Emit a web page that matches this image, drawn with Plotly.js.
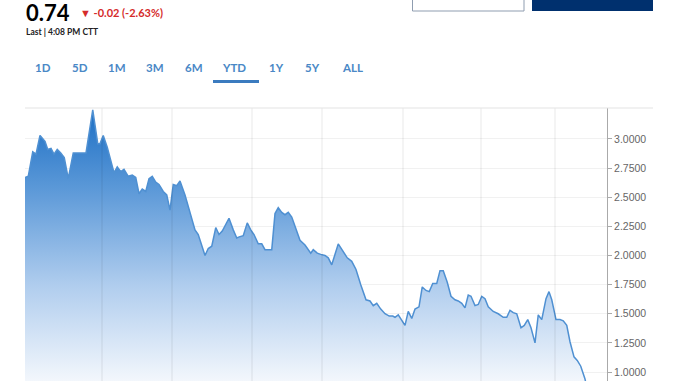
<!DOCTYPE html>
<html>
<head>
<meta charset="utf-8">
<script src="https://cdn.plot.ly/plotly-3.0.1.min.js"></script>
<style>
html,body{margin:0;padding:0;background:#fff;overflow:hidden;}
#chart{width:678px;height:381px;}
</style>
</head>
<body>
<div id="chart"></div>
<script>
// Day offset from start of year (approx.) and price
const day = [0,1.3,3.1,4.4,6.0,8.0,9.1,10.4,11.6,12.9,14.3,15.7,17.3,19.3,24.4,27.1,29.1,30.0,31.3,32.9,35.6,36.9,38.3,39.6,41.3,
42.9,44.3,45.6,46.9,48.3,49.6,50.9,52.3,53.6,55.3,56.7,58.0,59.3,60.7,62.0,64.0,66.7,68.0,69.3,72.0,73.3,74.7,76.3,77.6,78.9,81.6,
83.3,84.7,85.7,87.3,88.9,90.3,91.6,93.3,94.7,96.0,98.7,100.0,101.3,102.7,104.0,105.3,106.7,108.7,110.0,112.0,114.3,115.3,116.9,118.3,120.0,121.3,122.7,125.3,127.3,
128.9,130.7,132.4,134.3,136.4,138.0,139.3,140.7,142.3,144.0,145.7,147.1,148.0,149.3,152.0,153.3,154.7,156.0,157.6,158.9,160.4,161.7,163.1,164.7,166.0,167.3,168.9,170.4,172.0,
173.3,174.7,176.0,177.3,178.4,180.0,181.3,182.7,184.0,185.3,187.3,189.3,191.3,192.7,194.0,195.3,196.7,198.4,199.7,201.1,202.4,204.0,205.3,206.7,
208.4,209.6,210.7,212.4,214.0,215.3,216.7,218.0,219.6,220.9,222.3,224.0,225.0,226.0];
const price = [2.67,2.68,2.89,2.87,3.03,2.98,2.91,2.92,2.87,2.91,2.88,2.84,2.66,2.88,2.88,3.25,2.96,2.96,3.03,2.93,2.71,2.76,2.72,2.74,2.68,
2.69,2.67,2.53,2.57,2.55,2.66,2.68,2.63,2.61,2.55,2.52,2.39,2.61,2.60,2.64,2.52,2.31,2.22,2.18,2.00,2.06,2.08,2.24,2.18,2.21,2.32,
2.22,2.15,2.16,2.17,2.28,2.22,2.18,2.10,2.10,2.05,2.05,2.36,2.41,2.37,2.35,2.37,2.33,2.20,2.13,2.09,2.02,2.05,2.02,2.01,2.00,1.98,1.92,2.10,2.03,
1.98,1.95,1.88,1.75,1.62,1.61,1.57,1.59,1.54,1.50,1.48,1.48,1.47,1.49,1.40,1.52,1.46,1.54,1.56,1.73,1.70,1.69,1.76,1.76,1.87,1.87,1.77,1.65,1.62,
1.61,1.59,1.55,1.66,1.65,1.57,1.58,1.65,1.63,1.56,1.52,1.50,1.47,1.47,1.53,1.51,1.50,1.38,1.40,1.45,1.38,1.25,1.49,1.45,
1.63,1.69,1.62,1.45,1.45,1.44,1.40,1.26,1.13,1.10,1.05,0.94,0.84,0.74];
const monthGrid = [30.8,58.8,90.8,118.8,151.2,182.4,212.0];
const yTicks = [1.0,1.25,1.5,1.75,2.0,2.25,2.5,2.75,3.0];
const tabs = ["1D","5D","1M","3M","6M","YTD","1Y","5Y","ALL"];
const tabCenters = [42.5,79.5,116.5,155,193.5,234,276.5,312,352];

const L=25, R=607, T=108, H=381;
const px = x => (x-L)/(R-L);
const py = y => (H-y)/(H-T);

const shapes = [];
monthGrid.forEach(g => shapes.push({type:'line',xref:'x',yref:'paper',x0:g,x1:g,y0:0,y1:1,
  line:{color:'rgba(0,0,0,0.09)',width:1},layer:'above'}));
shapes.push({type:'line',xref:'paper',yref:'paper',x0:0,x1:px(653),y0:1,y1:1,line:{color:'#e3e3e3',width:1}});
shapes.push({type:'rect',xref:'paper',yref:'paper',x0:px(412.5),x1:px(524),y0:py(11),y1:py(-5),
  line:{color:'#8f9db0',width:1},fillcolor:'#ffffff'});
shapes.push({type:'rect',xref:'paper',yref:'paper',x0:px(532),x1:px(653),y0:py(11),y1:py(-5),
  line:{width:0},fillcolor:'#00306e'});
shapes.push({type:'rect',xref:'paper',yref:'paper',x0:px(213),x1:px(259),y0:py(83),y1:py(80),
  line:{width:0},fillcolor:'#3b7bbf'});

const ann = [];
ann.push({text:'<b>0.74</b>',xref:'paper',yref:'paper',x:px(24),y:py(13),xanchor:'left',yanchor:'middle',showarrow:false,
  font:{family:'Lato, sans-serif',size:22,color:'#000',weight:900}});
ann.push({text:'<b>▼ -0.02 (-2.63%)</b>',xref:'paper',yref:'paper',x:px(78),y:py(12.5),xanchor:'left',yanchor:'middle',showarrow:false,
  font:{family:'Lato, sans-serif',size:11,color:'#d52b2b'}});
ann.push({text:'<b>Last | 4:08 PM CTT</b>',xref:'paper',yref:'paper',x:px(24),y:py(32),xanchor:'left',yanchor:'middle',showarrow:false,
  font:{family:'Lato, sans-serif',size:8.5,color:'#222',weight:900}});
tabs.forEach((t,i) => ann.push({text:'<b>'+t+'</b>',xref:'paper',yref:'paper',x:px(tabCenters[i]),y:py(67),
  xanchor:'center',yanchor:'middle',showarrow:false,font:{family:'Lato, sans-serif',size:11.5,color:'#4a88c6'}}));

const trace = {x:day,y:price,type:'scatter',mode:'lines',fill:'tozeroy',
  line:{color:'#4f90d2',width:1.5},
  fillgradient:{type:'vertical',start:0.92,stop:3.27,
    colorscale:[[0,'#f3f7fc'],[0.35,'#b0cdee'],[0.7,'#5c99d8'],[1,'#1b6ec4']]},
  hoverinfo:'skip'};

const layout = {
  width:678,height:381,margin:{l:L,r:678-R,t:T,b:0},
  paper_bgcolor:'#fff',plot_bgcolor:'#fff',showlegend:false,
  xaxis:{range:[0,(R-L)/2.5],showgrid:false,zeroline:false,showticklabels:false,ticks:'',showline:false,fixedrange:true},
  yaxis:{range:[0.923,3.266],side:'right',tickvals:yTicks,tickformat:'.4f',ticks:'outside',ticklen:4,tickcolor:'#aaa',
    showline:true,linecolor:'#aaa',linewidth:1,gridcolor:'#f1f1f1',zeroline:false,
    tickfont:{family:'Liberation Sans, Arial, sans-serif',size:10.5,color:'#666'}},
  shapes:shapes,annotations:ann
};
Plotly.newPlot('chart',[trace],layout,{staticPlot:true,displayModeBar:false});
</script>
</body>
</html>
